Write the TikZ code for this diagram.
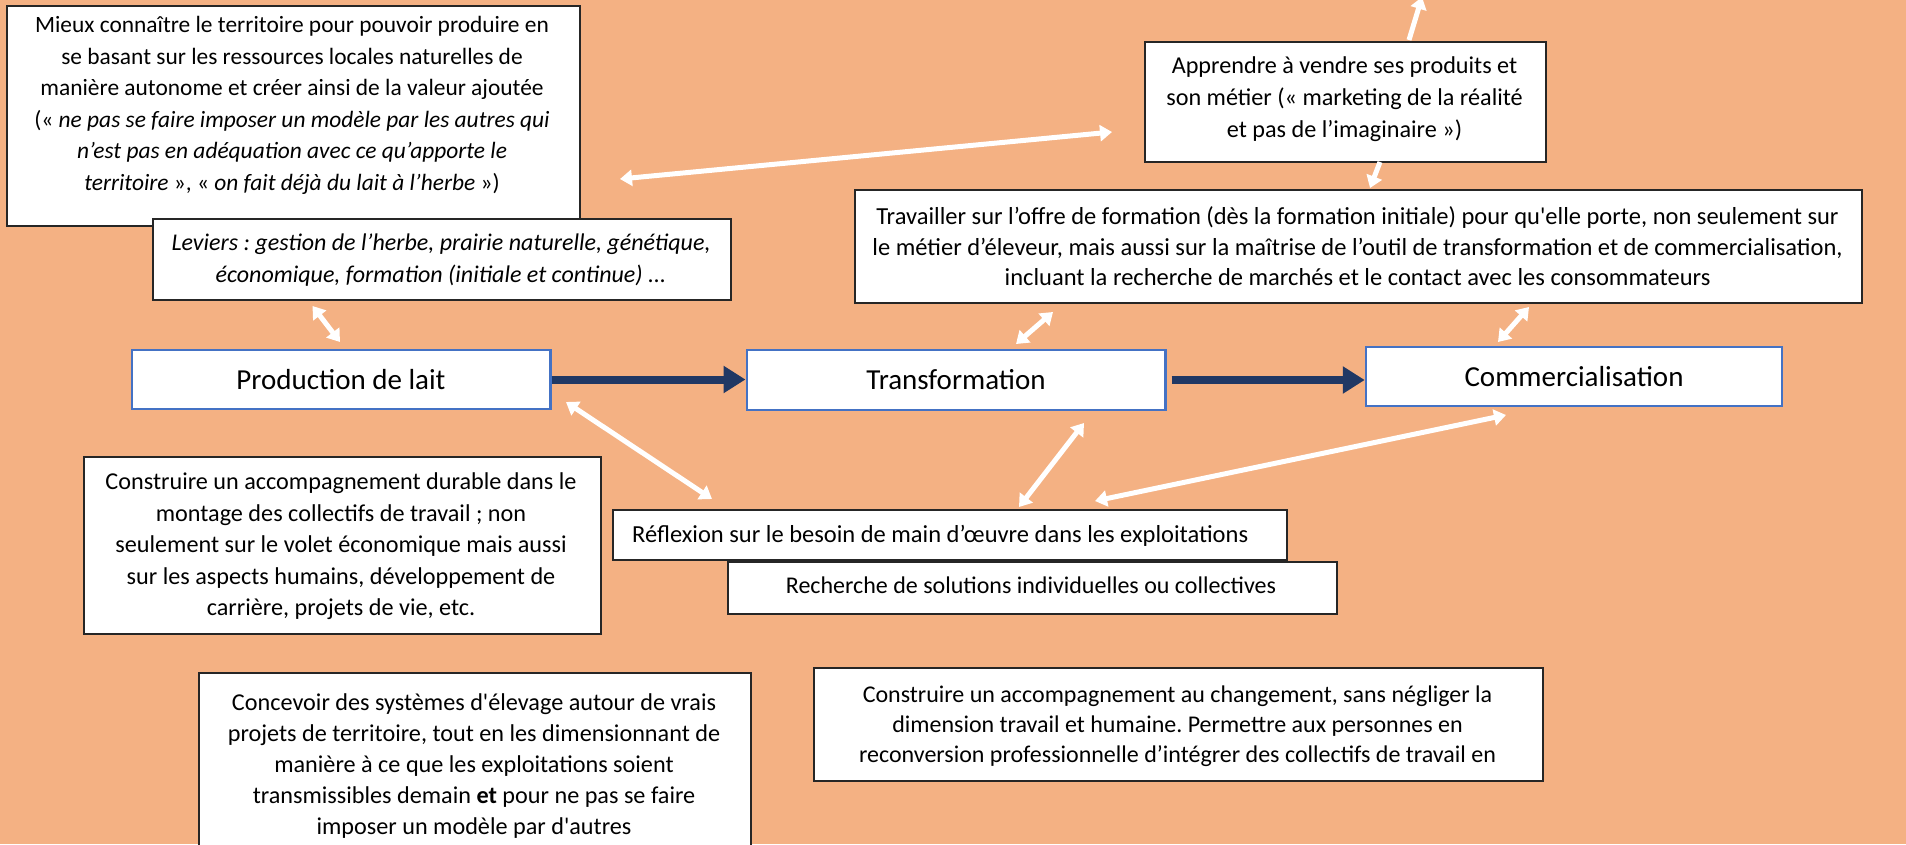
\documentclass[tikz,border=0pt]{standalone}
\usepackage{fontspec}
\setmainfont{Carlito}
\frenchspacing
\usetikzlibrary{arrows.meta,calc}
\definecolor{bg}{HTML}{F4B183}
\definecolor{navy}{HTML}{203864}
\definecolor{boxblue}{HTML}{4472C4}
\begin{document}
\begin{tikzpicture}[x=1pt,y=-1pt,
  box/.style={draw=black!85, line width=1.5pt, fill=white, anchor=north west, inner sep=0pt},
  stage/.style={draw=boxblue, line width=2.5pt, fill=white, inner sep=0pt, font=\fontsize{29}{34}\selectfont},
  txt/.style={align=center, inner sep=0pt},
  fs/.style={font=\fontsize{#1}{31.5}\selectfont},
  warrow/.style={white, line width=5pt, {Triangle[length=12pt,width=16pt]}-{Triangle[length=12pt,width=16pt]}},
  wsingle/.style={white, line width=5pt, -{Triangle[length=12pt,width=16pt]}},
  narrow/.style={navy, line width=8pt, -{Triangle[length=22pt,width=26pt]}},
]
\clip (0,0) rectangle (1906,844);
\fill[bg] (0,0) rectangle (1906,844);

% boxes
\node[box, minimum width=573pt, minimum height=220pt] (A) at (6,5) {};
\node[txt, fs=23.4] (At) at (292,105.5) {Mieux connaître le territoire pour pouvoir produire en\\
se basant sur les ressources locales naturelles de\\
manière autonome et créer ainsi de la valeur ajoutée\\
(« \textit{ne pas se faire imposer un modèle par les autres qui}\\
\textit{n’est pas en adéquation avec ce qu’apporte le}\\
\textit{territoire} », « \textit{on fait déjà du lait à l’herbe} »)};

\node[box, minimum width=578pt, minimum height=81pt] (L) at (152,218) {};
\node[txt, font=\fontsize{24}{32}\selectfont] (Lt) at (441,260) {\textit{Leviers : gestion de l’herbe, prairie naturelle, génétique,}\\
\textit{économique, formation (initiale et continue) ...}};

\node[box, minimum width=401pt, minimum height=120pt] (P) at (1144,41) {};
\node[txt, font=\fontsize{24.2}{32}\selectfont] (Pt) at (1344.5,99) {Apprendre à vendre ses produits et\\
son métier (« marketing de la réalité\\
et pas de l’imaginaire »)};

\node[box, minimum width=1007pt, minimum height=113pt] (T) at (854,189) {};
\node[txt, font=\fontsize{24.5}{30.5}\selectfont] (Tt) at (1357.5,246.5) {Travailler sur l’offre de formation (dès la formation initiale) pour qu\textquotesingle elle porte, non seulement sur\\
le métier d’éleveur, mais aussi sur la maîtrise de l’outil de transformation et de commercialisation,\\
incluant la recherche de marchés et le contact avec les consommateurs};

\node[box, minimum width=517pt, minimum height=177pt] (C1) at (83,456) {};
\node[txt, fs=24.2] (C1t) at (341,546.5) {Construire un accompagnement durable dans le\\
montage des collectifs de travail ; non\\
seulement sur le volet économique mais aussi\\
sur les aspects humains, développement de\\
carrière, projets de vie, etc.};

\node[box, minimum width=674pt, minimum height=50pt] (R) at (612,509) {};
\node[txt, fs=24.5, anchor=base west] (Rt) at (632,542) {Réflexion sur le besoin de main d’œuvre dans les exploitations};

\node[box, minimum width=609pt, minimum height=52pt] (S) at (727,561) {};
\node[txt, fs=24, anchor=base] (St) at (1031,593) {Recherche de solutions individuelles ou collectives};

\node[box, minimum width=552pt, minimum height=200pt] (K) at (198,672) {};
\node[txt, font=\fontsize{24.2}{31}\selectfont] (Kt) at (474,766) {Concevoir des systèmes d\textquotesingle élevage autour de vrais\\
projets de territoire, tout en les dimensionnant de\\
manière à ce que les exploitations soient\\
transmissibles demain \textbf{et} pour ne pas se faire\\
imposer un modèle par d\textquotesingle autres};

\node[box, minimum width=729pt, minimum height=113pt] (C2) at (813,667) {};
\node[txt, font=\fontsize{24}{30}\selectfont] (C2t) at (1177.5,726) {Construire un accompagnement au changement, sans négliger la\\
dimension travail et humaine. Permettre aux personnes en\\
reconversion professionnelle d’intégrer des collectifs de travail en};

% stages
\node[stage, minimum width=418.5pt, minimum height=59pt] (prod) at (341,379.5) {Production de lait};
\node[stage, minimum width=418.5pt, minimum height=60pt] (trans) at (956,380) {Transformation};
\node[stage, minimum width=416pt, minimum height=59pt] (comm) at (1574,376.5) {Commercialisation};

% navy arrows
\draw[narrow] (prod.east) -- (prod.east -| trans.west);
\draw[narrow] ([xshift=5pt]trans.east) -- (trans.east -| comm.west);

% white arrow end points
\coordinate (a1) at (620,179); \coordinate (a2) at (1112,132);
\coordinate (b1) at (1409,40); \coordinate (b2) at (1422,-3);
\coordinate (c1) at (1380,162); \coordinate (c2) at (1370,188);
\coordinate (d1) at (312.5,306); \coordinate (d2) at (340,342);
\coordinate (e1) at (1053,312); \coordinate (e2) at (1016,344);
\coordinate (f1) at (1529,307); \coordinate (f2) at (1498,342);
\coordinate (g1) at (566,402); \coordinate (g2) at (712,499);
\coordinate (h1) at (1084,423); \coordinate (h2) at (1019,507);
\coordinate (i1) at (1506,415); \coordinate (i2) at (1095,501);

\draw[warrow] (a1) -- (a2);
\draw[wsingle] (b1) -- (b2);
\draw[wsingle] (c1) -- (c2);
\draw[warrow] (d1) -- (d2);
\draw[warrow] (e1) -- (e2);
\draw[warrow] (f1) -- (f2);
\draw[warrow] (g1) -- (g2);
\draw[warrow] (h1) -- (h2);
\draw[warrow] (i1) -- (i2);
\end{tikzpicture}
\end{document}
